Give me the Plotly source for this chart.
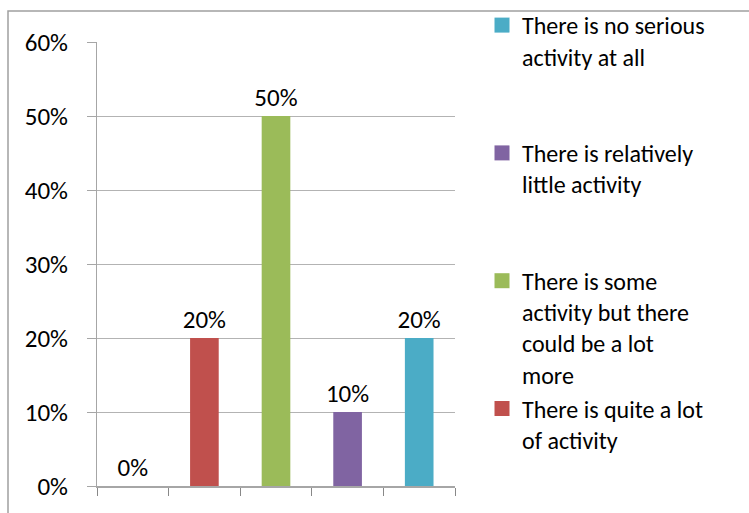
import plotly.graph_objects as go

# Survey response shares (one bar per response option)
categories = ["1", "2", "3", "4", "5"]
values = [0.0, 0.20, 0.50, 0.10, 0.20]
labels = [
    None,
    "There is quite a lot<br>of activity",
    "There is some<br>activity but there<br>could be a lot<br>more",
    "There is relatively<br>little activity<br> <br> ",
    "There is no serious<br>activity at all<br> <br> ",
]
colors = ["#4F81BD", "#C0504D", "#9BBB59", "#8064A2", "#4BACC6"]
legend_rank = [0, 4, 3, 2, 1]

y_ticks = [0, 0.1, 0.2, 0.3, 0.4, 0.5, 0.6]

FONT = "Carlito, Calibri, Lato, sans-serif"
FS = 25
LEG_FS = 24

fig = go.Figure()
for cat, val, lab, col in zip(categories, values, labels, colors):
    fig.add_trace(go.Bar(
        x=[cat], y=[val],
        name=lab if lab else cat,
        showlegend=False,
        marker=dict(color=col, line=dict(width=0)),
        width=0.4,
        text=[f"{val:.0%}"],
        textposition="outside",
        constraintext="none",
        textfont=dict(family=FONT, size=FS, color="#000000"),
        cliponaxis=False,
    ))

# Legend keys: square swatches in each option's colour
for lab, col, rank in zip(labels, colors, legend_rank):
    if lab is None:
        continue
    fig.add_trace(go.Scatter(
        x=[None], y=[None],
        mode="markers",
        name=lab,
        legendrank=rank,
        marker=dict(symbol="square", size=15, color=col, line=dict(width=0)),
        hoverinfo="skip",
    ))

W, H = 749, 513
L, R, T, B = 97, 294, 42, 27
pw, ph = W - L - R, H - T - B


def px_x(x):
    return (x - L) / pw


def px_y(y):
    return (H - B - y) / ph


fig.update_layout(
    width=W, height=H,
    margin=dict(l=L, r=R, t=T, b=B, autoexpand=False),
    paper_bgcolor="white", plot_bgcolor="white",
    barmode="overlay",
    font=dict(family=FONT, size=FS, color="#000000"),
    showlegend=True,
    legend=dict(
        x=px_x(482), xanchor="left",
        y=px_y(3), yanchor="top",
        valign="top",
        font=dict(family=FONT, size=LEG_FS, color="#000000"),
        itemwidth=30,
        itemsizing="trace",
        traceorder="normal",
        maxheight=900,
        bgcolor="rgba(0,0,0,0)",
    ),
    xaxis=dict(
        type="category",
        categoryorder="array", categoryarray=categories,
        showticklabels=False,
        ticks="outside", ticklen=8, tickcolor="#888888", tickwidth=1,
        tickson="boundaries",
        showgrid=False,
        showline=True, linecolor="#A6A6A6", linewidth=2,
        zeroline=False,
    ),
    yaxis=dict(
        range=[0, 0.6],
        tickvals=y_ticks,
        tickformat=".0%",
        ticks="outside", ticklen=9, tickcolor="#A6A6A6", tickwidth=1,
        ticklabelstandoff=14,
        showgrid=True, gridcolor="#B3B3B3", gridwidth=1,
        showline=True, linecolor="#A6A6A6", linewidth=1,
        zeroline=False,
    ),
)

# Chart-area frame (left and top edges fall inside the page)
fig.add_shape(
    type="rect", xref="paper", yref="paper",
    x0=px_x(8), x1=px_x(W + 20),
    y0=px_y(H + 20), y1=px_y(11),
    line=dict(color="#A0A0A0", width=1.5),
    fillcolor="rgba(0,0,0,0)", layer="below",
)

fig.write_html("out.html")
